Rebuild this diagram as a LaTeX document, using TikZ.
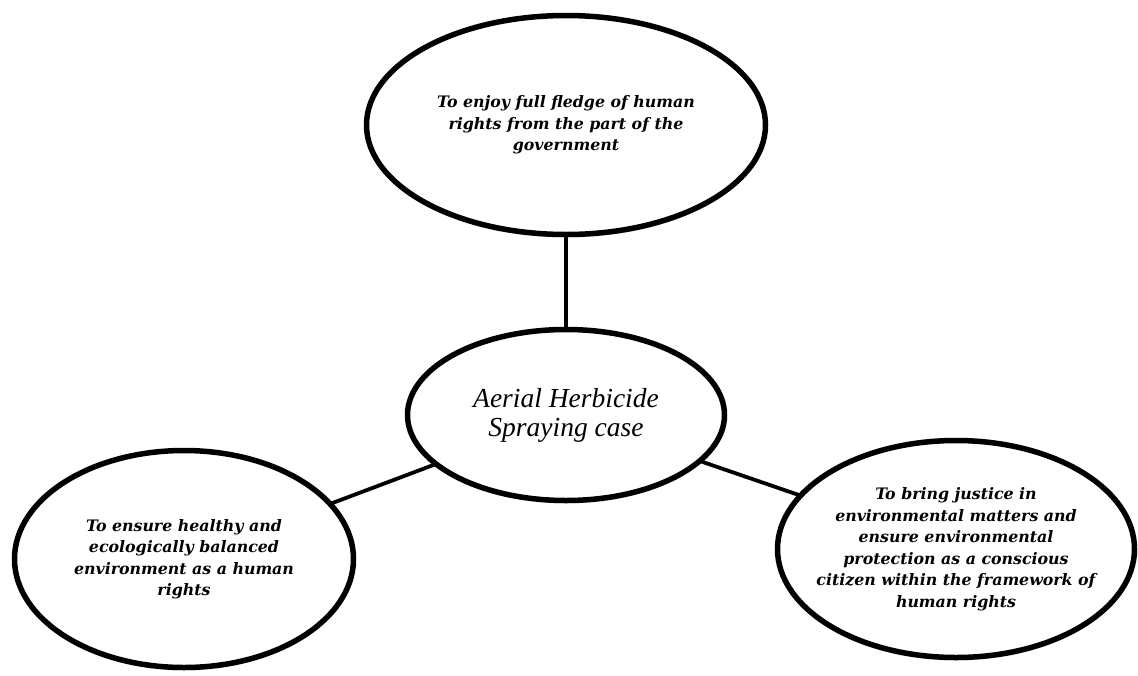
\documentclass[tikz,border=0pt]{standalone}
\usepackage{fontspec}
\setmainfont{Liberation Serif}
\newfontfamily\bubblefont{DejaVu Serif}
\usetikzlibrary{shapes.geometric, shadows}
\tikzset{
    bubble/.style={
        ellipse, draw, line width=5.5pt, fill=white,
        inner sep=0pt, align=center,
        font=\bubblefont\fontsize{15.8}{21.5}\selectfont\bfseries\itshape,
        drop shadow={shadow xshift=0pt, shadow yshift=-3pt, opacity=0.3, fill=gray}
    },
    hub/.style={
        bubble,
        font=\fontsize{27.5}{29}\selectfont\itshape
    },
    link/.style={line width=3.8pt}
}

\begin{document}
\begin{tikzpicture}[
            x=1pt, y=-1pt
        ]
        \useasboundingbox (0, 0) rectangle (1138, 675);

        % spokes first, bubbles on top
        \path
            coordinate (pHub) at (566, 415)
            coordinate (pGov) at (566, 125)
            coordinate (pEnv) at (184, 559)
            coordinate (pJus) at (956, 549);

        \draw[link] (pHub) -- (pGov);
        \draw[link] (pHub) -- (pEnv);
        \draw[link] (pHub) -- (pJus);

        \node[bubble, minimum width=399pt, minimum height=219pt] (gov) at (pGov)
            {To enjoy full fledge of human\\rights from the part of the\\government};

        \node[bubble, minimum width=339pt, minimum height=217pt] (env) at (pEnv)
            {To ensure healthy and\\ecologically balanced\\environment as a human\\rights};

        % long text lines: keep the bubble from growing
        \node[bubble, inner xsep=-24pt, minimum width=357pt, minimum height=217pt] (jus) at (pJus)
            {To bring justice in\\environmental matters and\\ensure environmental\\protection as a conscious\\citizen within the framework of\\human rights};

        \node[hub, minimum width=317pt, minimum height=171pt] (hub) at (pHub)
            {Aerial Herbicide\\Spraying case};
    \end{tikzpicture}
\end{document}
